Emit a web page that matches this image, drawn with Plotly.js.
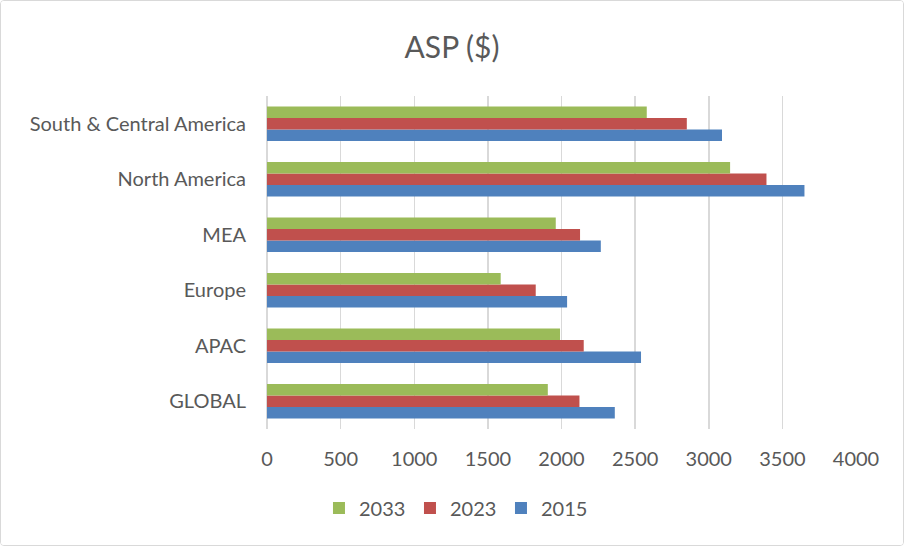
<!DOCTYPE html>
<html><head><meta charset="utf-8">
<script src="https://cdn.plot.ly/plotly-3.0.1.min.js"></script>
<style>
html,body{margin:0;padding:0;background:#fff;}
#chart{width:902px;height:544px;border:1px solid #d9d9d9;border-radius:4px;overflow:hidden;}
</style></head>
<body><div id="chart"></div>
<script>
const categories = ["GLOBAL", "APAC", "Europe", "MEA", "North America", "South & Central America"];
const series2015 = [2362, 2540, 2038, 2267, 3650, 3090];
const series2023 = [2122, 2151, 1825, 2126, 3392, 2851];
const series2033 = [1907, 1990, 1587, 1961, 3145, 2579];
const tickVals = [0, 500, 1000, 1500, 2000, 2500, 3000, 3500, 4000];

const font = "Lato, 'Open Sans', sans-serif";
const traces = [
  {name: "2015", y: categories, x: series2015, type: "bar", orientation: "h", marker: {color: "#4F81BD"}},
  {name: "2023", y: categories, x: series2023, type: "bar", orientation: "h", marker: {color: "#C0504D"}},
  {name: "2033", y: categories, x: series2033, type: "bar", orientation: "h", marker: {color: "#9BBB59"}}
];
const layout = {
  width: 902, height: 544,
  margin: {l: 266, r: 47, t: 95, b: 116},
  paper_bgcolor: "#fff", plot_bgcolor: "#fff",
  font: {family: font, color: "#595959", size: 20},
  title: {text: "ASP ($)", x: 0.5, xanchor: "center", y: 0.915, yanchor: "middle", font: {size: 30, color: "#595959", family: font}},
  barmode: "group", bargap: 0.38, bargroupgap: 0,
  xaxis: {range: [0, 4000], tickvals: tickVals, ticktext: tickVals.map(String), showgrid: true, gridcolor: "#d9d9d9", gridwidth: 1.5,
          zeroline: true, zerolinecolor: "#d9d9d9", zerolinewidth: 1.5, showline: false, ticks: "", ticklabelstandoff: 16, fixedrange: true},
  yaxis: {showgrid: false, zeroline: false, showline: false, ticks: "", ticklabelstandoff: 20, automargin: false},
  showlegend: true,
  legend: {orientation: "h", x: 0.32, xanchor: "center", y: -0.237, yanchor: "middle", traceorder: "reversed", font: {size: 20, color: "#595959"}, itemwidth: 30, entrywidth: 46},
};
Plotly.newPlot("chart", traces, layout, {displayModeBar: false, staticPlot: true});
</script></body></html>
